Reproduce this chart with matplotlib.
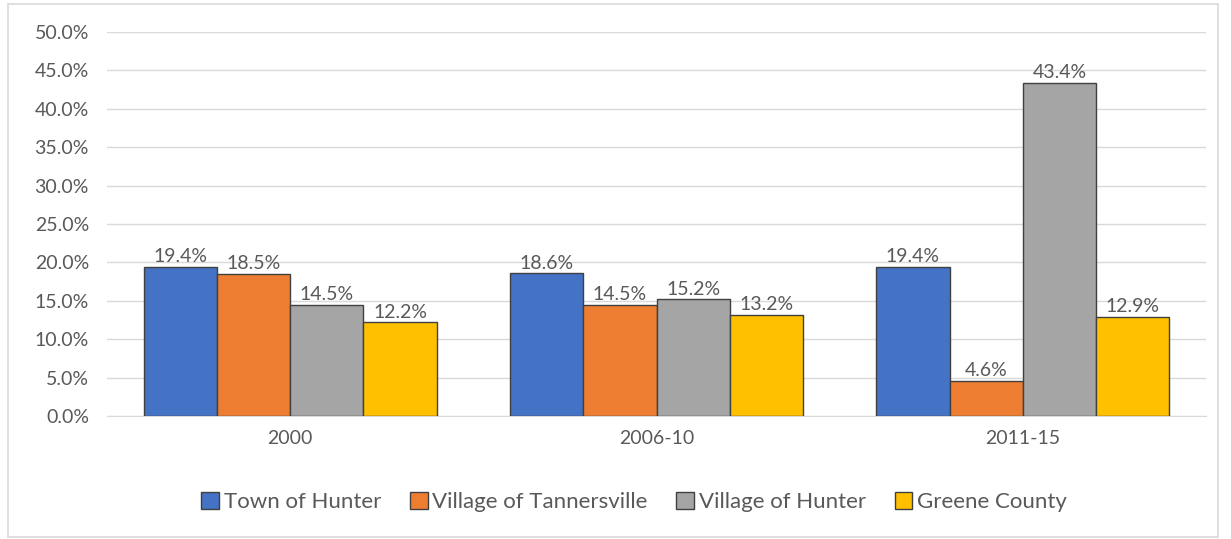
import matplotlib
matplotlib.use("Agg")
import matplotlib.pyplot as plt
import numpy as np
from matplotlib.patches import Rectangle

categories = ["2000", "2006-10", "2011-15"]
series_names = ["Town of Hunter", "Village of Tannersville", "Village of Hunter", "Greene County"]
town_of_hunter = [19.4, 18.6, 19.4]
village_of_tannersville = [18.5, 14.5, 4.6]
village_of_hunter = [14.5, 15.2, 43.4]
greene_county = [12.2, 13.2, 12.9]
y_ticks = [0, 5, 10, 15, 20, 25, 30, 35, 40, 45, 50]

series = [town_of_hunter, village_of_tannersville, village_of_hunter, greene_county]
colors = ["#4472C4", "#ED7D31", "#A5A5A5", "#FFC000"]
text_color = "#595959"

plt.rcParams["font.family"] = ["Lato", "DejaVu Sans"]

fig = plt.figure(figsize=(12.31, 5.39), dpi=100)
ax = fig.add_axes([107 / 1231, 123 / 539, (1206 - 107) / 1231, (416 - 32) / 539])

# outer chart border
fig.patches.append(Rectangle((8 / 1231, 2 / 539), (1218 - 8) / 1231, (535 - 2) / 539,
                             transform=fig.transFigure, fill=False,
                             edgecolor="#D9D9D9", linewidth=1.2))

x = np.arange(len(categories))
bar_w = 0.2
for i, (vals, name, c) in enumerate(zip(series, series_names, colors)):
    pos = x + (i - 1.5) * bar_w
    bars = ax.bar(pos, vals, width=bar_w, color=c, edgecolor="#404040",
                  linewidth=1.0, label=name, zorder=3)
    for b, v in zip(bars, vals):
        ax.text(b.get_x() + b.get_width() / 2, v + 0.2, f"{v:.1f}%",
                ha="center", va="bottom", fontsize=14, color=text_color, zorder=4)

ax.set_xlim(-0.5, len(categories) - 0.5)
ax.set_ylim(0, 50)
ax.set_yticks(y_ticks)
ax.set_yticklabels([f"{t:.1f}%" for t in y_ticks])
ax.set_xticks(x)
ax.set_xticklabels(categories)
ax.tick_params(axis="both", length=0, labelsize=14, colors=text_color)
ax.tick_params(axis="y", pad=13)
ax.tick_params(axis="x", pad=10)
ax.grid(axis="y", color="#D9D9D9", linewidth=1.0, zorder=0)
for s in ["top", "right", "left"]:
    ax.spines[s].set_visible(False)
ax.spines["bottom"].set_color("#D9D9D9")

leg = fig.legend(loc="center", bbox_to_anchor=(634 / 1231, 1 - 502 / 539), ncol=4,
                 frameon=False, fontsize=16, handlelength=0.8, handleheight=0.8,
                 handletextpad=0.2, columnspacing=1.3, labelcolor=text_color)

fig.savefig("out.png", dpi=100, facecolor="white")
